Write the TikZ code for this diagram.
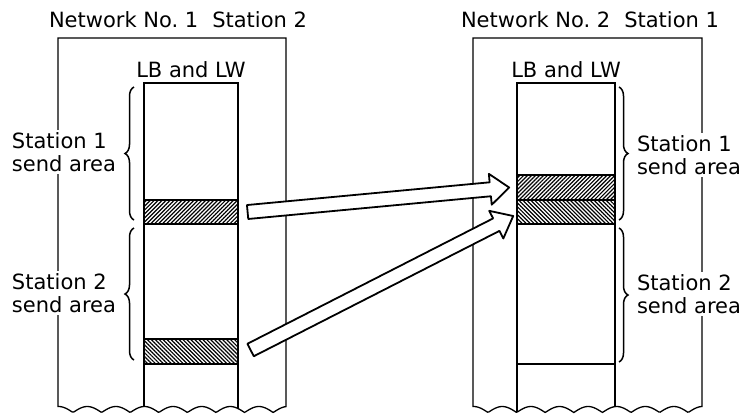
\documentclass[tikz,border=0pt]{standalone}
\usepackage{fontspec}
\setmainfont{DejaVu Sans}
\usepackage{tikz}
\usetikzlibrary{calc,patterns.meta,decorations.pathreplacing}

\newcommand{\hollowarrow}[2]{%
  \path ($(#2)!9.5pt!(#1)$) coordinate (hb);
  \draw[flowarrow] ($(#1)!3.5pt!90:(#2)$) -- ($(hb)!3.5pt!90:(#2)$) -- ($(hb)!7.75pt!90:(#2)$) -- (#2)
    -- ($(hb)!7.75pt!-90:(#2)$) -- ($(hb)!3.5pt!-90:(#2)$) -- ($(#1)!3.5pt!-90:(#2)$) -- cycle;
}

\begin{document}
\begin{tikzpicture}[x=0.5pt, y=-0.5pt,
    every node/.style={font=\fontsize{10.5pt}{11.5pt}\selectfont},
    frameline/.style={line width=0.65pt},
    memline/.style={line width=0.8pt},
    band/.style={draw, line width=0.8pt, inner sep=0pt, minimum height=12pt},
    fwdhatch/.style={pattern={Lines[angle=45,distance=1.4pt,line width=0.6pt]}},
    backhatch/.style={pattern={Lines[angle=-45,distance=1.4pt,line width=0.6pt]}},
    areabrace/.style={decorate, decoration={brace, amplitude=4.5pt}, line width=0.75pt},
    arealabel/.style={fill=white, align=left, inner sep=1pt},
    flowarrow/.style={draw, fill=white, line width=0.9pt, line join=round}
]
\useasboundingbox (0,0) rectangle (743,414);

\draw[frameline] (58,38) -- (58,407) -- plot[domain=58:286, samples=160] (\x, {412.5-6*abs(sin(6.2937*(\x-73)))}) -- (286,38) -- cycle;
\draw[frameline] (473,38) -- (473,407) -- plot[domain=473:702, samples=160] (\x, {412.5-6*abs(sin(6.2937*(\x-488)))}) -- (702,38) -- cycle;

\node (nettitleone) at (178,20) {Network No.~1\hspace{7pt}Station 2};
\node (nettitletwo) at (590,20) {Network No.~2\hspace{7pt}Station 1};

\draw[memline] (144,407) -- (144,83) -- (238,83) -- (238,409);
\draw[memline] (517,412) -- (517,83) -- (615,83) -- (615,407);
\draw[memline] (517,364) -- (615,364);
\node (memlblone) at (191,70) {LB and LW};
\node (memlbltwo) at (566,70) {LB and LW};

\node[band, fwdhatch, minimum width=47pt] (srcone) at (191,212) {};
\node[band, backhatch, minimum width=47pt, minimum height=12.5pt] (srctwo) at (191,351.5) {};
\node[band, fwdhatch, minimum width=49pt, minimum height=12.5pt] (dstone) at (566,187.5) {};
\node[band, backhatch, minimum width=49pt] (dsttwo) at (566,212) {};

\draw[areabrace] (134,220) -- (134,87);
\draw[areabrace] (134,360) -- (134,228);
\draw[areabrace] (619,87) -- (619,220);
\draw[areabrace] (619,228) -- (619,362);

\node[arealabel] (srclblone) at (64,152) {Station 1\\send area};
\node[arealabel] (srclbltwo) at (64,293) {Station 2\\send area};
\node[arealabel] (dstlblone) at (689,155) {Station 1\\send area};
\node[arealabel] (dstlbltwo) at (689,294) {Station 2\\send area};

\coordinate (aonetail) at ($(srcone.east)+(9,0)$);
\coordinate (aonetip) at ($(dstone.west)+(-7,0)$);
\coordinate (atwotail) at ($(srctwo.east)+(12,-1.5)$);
\coordinate (atwotip) at ($(dsttwo.west)+(-3,4)$);
\hollowarrow{aonetail}{aonetip}
\hollowarrow{atwotail}{atwotip}
\end{tikzpicture}
\end{document}
